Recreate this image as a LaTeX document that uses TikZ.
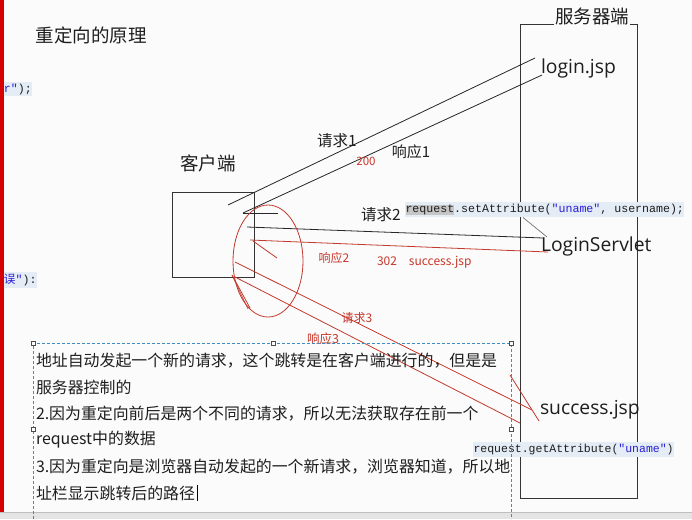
\documentclass[tikz,border=0pt]{standalone}
\usepackage{fontspec}
\setmainfont{Noto Sans CJK SC}
\newfontfamily\latinfont{Open Sans}
\newfontfamily\codefont{Liberation Mono}
\definecolor{paper}{HTML}{FAFBFA}
\definecolor{inkred}{HTML}{C23A2E}
\definecolor{labelred}{HTML}{C8372B}
\definecolor{codebg}{HTML}{E4ECF5}
\definecolor{codehl}{HTML}{C6C6C6}
\definecolor{strblue}{HTML}{2A1FD8}
\definecolor{boxblue}{HTML}{3E8DC2}
\definecolor{barred}{HTML}{D60000}
\definecolor{bandgray}{HTML}{E4E4E4}
\definecolor{textdark}{HTML}{1E1E1E}
\begin{document}
\begin{tikzpicture}[x=1pt,y=-1pt,
  every node/.style={inner sep=0pt, outer sep=0pt, text=textdark},
  cjkbig/.style={font=\fontsize{18.5}{22}\selectfont},
  cjkmid/.style={font=\fontsize{15.5}{19}\selectfont},
  redlabel/.style={font=\fontsize{12}{14}\selectfont, text=labelred},
  filelabel/.style={font=\latinfont\fontsize{19.3}{23}\selectfont, anchor=base west},
  bodyline/.style={font=\fontsize{15.9}{20}\selectfont, anchor=west},
  codetag/.style={font=\codefont\fontsize{11.6}{14}\selectfont, fill=codebg, inner xsep=0.5pt, inner ysep=2pt, anchor=west},
  blackline/.style={draw=black!85, line width=0.8pt},
  redline/.style={draw=inkred, line width=0.8pt},
  frame/.style={draw=black!80, line width=0.8pt},
  dashbox/.style={draw=boxblue, line width=0.8pt, dash pattern=on 3pt off 2pt},
  handle/.style={draw=black!70, fill=white, line width=0.5pt, minimum size=4pt, inner sep=0pt}
]
\useasboundingbox (0,0) rectangle (692,519);
\fill[paper] (0,0) rectangle (692,519);

% code fragments at the left margin
\node[codetag] (frag1) at (3.5,89) {\textcolor{strblue}{r"});};
\node[codetag] (frag2) at (3.5,280) {\textcolor{strblue}{{\rmfamily 误}"}):};
\fill[barred] (0,0) rectangle (3.5,512);

% window status strip
\fill[bandgray] (0,512) rectangle (692,519);
\draw[black!25, line width=0.6pt] (0,512.3) -- (692,512.3);

% titles
\node[cjkbig] (title) at (91,35) {重定向的原理};
\node[cjkbig] (clientlbl) at (208,163) {客户端};

% client and server boxes
\draw[frame] (172,192) rectangle (254,277);
\draw[frame] (520,24) rectangle (637,498);
\node[cjkbig, fill=paper, inner xsep=1pt] (serverlbl) at (592,16) {服务器端};

% server side resources
\node[filelabel] (login) at (541,73) {login.jsp};
\node[filelabel] (servlet) at (541,251) {LoginServlet};
\node[filelabel] (success) at (540,414) {success.jsp};

% end points of the hand-drawn connectors
\coordinate (qa) at (228,205);
\coordinate (qb) at (535,58);
\coordinate (ra) at (243,213);
\coordinate (rb) at (542,75);
\coordinate (rtip) at (278,213);
\coordinate (q2a) at (247,227);
\coordinate (q2b) at (543,238);
\coordinate (r2a) at (250,240);
\coordinate (r2b) at (548,252);
\coordinate (r2s) at (253,241);
\coordinate (r2t) at (277,258);
\coordinate (q3a) at (235,262);
\coordinate (q3b) at (532,410);
\coordinate (r3a) at (235,277);
\coordinate (r3b) at (520,423);
\coordinate (q3s) at (510,375);
\coordinate (q3t) at (539,421);
\coordinate (r3s) at (232,275);
\coordinate (r3t) at (250,308);
\coordinate (r3u) at (248,309);

% first round trip: login.jsp
\draw[blackline] (qa) -- (qb);
\draw[blackline] (ra) -- (rb);
\draw[blackline] (ra) -- (rtip);
\node[cjkmid] (q1lbl) at (337,141) {请求1};
\node[font=\fontsize{15}{18}\selectfont] (r1lbl) at (411,152) {响应1};
\node[redlabel, font=\fontsize{11.5}{14}\selectfont] (code200) at (366,161) {200};

% second round trip: LoginServlet answers with a redirect
\draw[blackline] (q2a) -- (q2b);
\draw[redline] (r2a) -- (r2b);
\draw[redline] (r2s) -- (r2t);
\node[cjkmid] (q2lbl) at (381,215) {请求2};
\node[redlabel] (r2lbl) at (334,258) {响应2};
\node[redlabel, anchor=west] (code302) at (377,262) {302\hspace{12pt}success.jsp};

% third round trip: success.jsp
\draw[redline] (q3a) -- (q3b);
\draw[redline] (r3a) -- (r3b);
\draw[redline] (q3s) -- (q3t);
\draw[redline] (r3s) -- (r3t);
\draw[redline, line width=0.6pt] (r3s) -- (r3u);
\node[redlabel] (q3lbl) at (357,318) {请求3};
\node[redlabel, font=\fontsize{12.5}{15}\selectfont] (r3lbl) at (323,339) {响应3};

% browser-side emphasis
\draw[redline] (268,261) ellipse [x radius=35, y radius=56];

% code annotations
\node[codetag] (setattr) at (405,209.5)
  {{\setlength\fboxsep{0pt}\colorbox{codehl}{request}}.setAttribute(\textcolor{strblue}{"uname"}, username);};
\coordinate (callout) at (523,217.5);
\coordinate (calltip) at (547,237);
\draw[black!55, line width=0.7pt] (callout) -- (calltip);
\node[codetag, font=\codefont\fontsize{11.5}{14}\selectfont] (getattr) at (473,449.5)
  {request.getAttribute(\textcolor{strblue}{"uname"})};

% explanatory text box
\draw[dashbox] (33,519) -- (33,343) -- (511,343) -- (511,519);
\node[bodyline] (t1) at (36,361) {地址自动发起一个新的请求，这个跳转是在客户端进行的，但是是};
\node[bodyline] (t2) at (36,387) {服务器控制的};
\node[bodyline] (t3) at (36,414) {2.因为重定向前后是两个不同的请求，所以无法获取存在前一个};
\node[bodyline] (t4) at (36,440) {request中的数据};
\node[bodyline] (t5) at (36,467) {3.因为重定向是浏览器自动发起的一个新请求，浏览器知道，所以地};
\node[bodyline] (t6) at (36,493) {址栏显示跳转后的路径};
\draw[black, line width=0.7pt] (t6.east) ++(2.5,-8) -- ++(0,16);
\foreach \hx/\hy in {33/343, 273/343, 511/343, 33/429, 511/429}
  \node[handle] at (\hx,\hy) {};
\end{tikzpicture}
\end{document}
